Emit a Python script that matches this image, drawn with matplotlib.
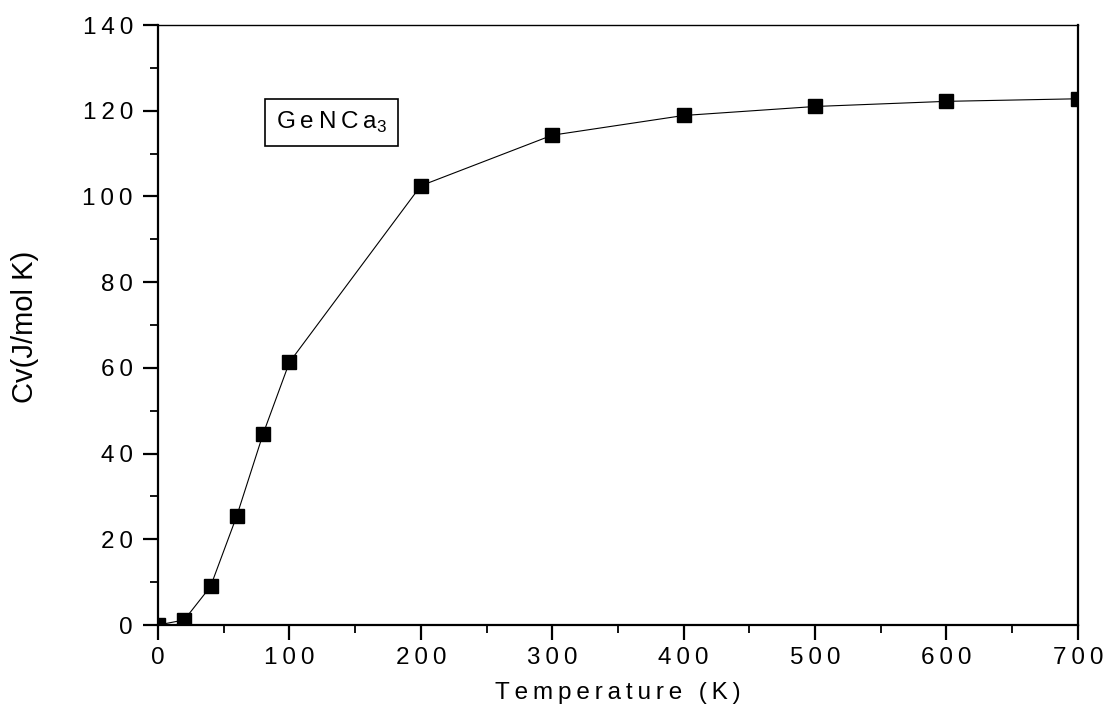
import matplotlib
matplotlib.use('Agg')
import matplotlib.pyplot as plt
from matplotlib.ticker import MultipleLocator, FuncFormatter

plt.rcParams['font.family'] = ['Liberation Sans', 'DejaVu Sans']
plt.rcParams['mathtext.fontset'] = 'custom'
plt.rcParams['mathtext.rm'] = 'Liberation Sans'

## data
temperature = [0, 20, 40, 60, 80, 100, 200, 300, 400, 500, 600, 700]
cv = [0.0, 1.2, 9.0, 25.5, 44.6, 61.3, 102.5, 114.3, 118.9, 121.0, 122.2, 122.8]

SP = '\u2009'  ## thin space, mimics the wide letter spacing


def spaced(s):
    return SP.join(s)


fig = plt.figure(figsize=(11.07, 7.16), dpi=100)
ax = fig.add_axes([0.1427, 0.127, 0.831, 0.838])

ax.plot(temperature, cv, color='black', lw=0.8, marker='s', ms=9.5,
        markerfacecolor='black', markeredgecolor='black')

ax.set_xlim(0, 700)
ax.set_ylim(0, 140)
ax.xaxis.set_major_locator(MultipleLocator(100))
ax.xaxis.set_minor_locator(MultipleLocator(50))
ax.yaxis.set_major_locator(MultipleLocator(20))
ax.yaxis.set_minor_locator(MultipleLocator(10))
fmt = FuncFormatter(lambda v, p: spaced('%d' % v))
ax.xaxis.set_major_formatter(fmt)
ax.yaxis.set_major_formatter(fmt)

for s in ax.spines.values():
    s.set_linewidth(1.6)
ax.spines['top'].set_linewidth(1.0)
ax.tick_params(which='major', direction='out', length=11, width=1.6, labelsize=17.5)
ax.tick_params(which='minor', direction='out', length=5.5, width=1.3)
ax.tick_params(axis='x', which='major', pad=5)
ax.tick_params(axis='y', which='major', pad=7)

ax.set_xlabel(spaced('Temperature (K)'), fontsize=17.5, labelpad=9)
fig.text(25 / 1107, 1 - 327 / 716, 'Cv(J/mol K)', fontsize=21, rotation=90,
         ha='center', va='center')

ax.text(89.5, 117.3, spaced('GeNCa') + '$_3$', fontsize=17.5, va='center', ha='left',
        bbox=dict(boxstyle='square,pad=0.45', facecolor='white',
                  edgecolor='black', lw=1.2))

fig.savefig('out.png', dpi=100)
